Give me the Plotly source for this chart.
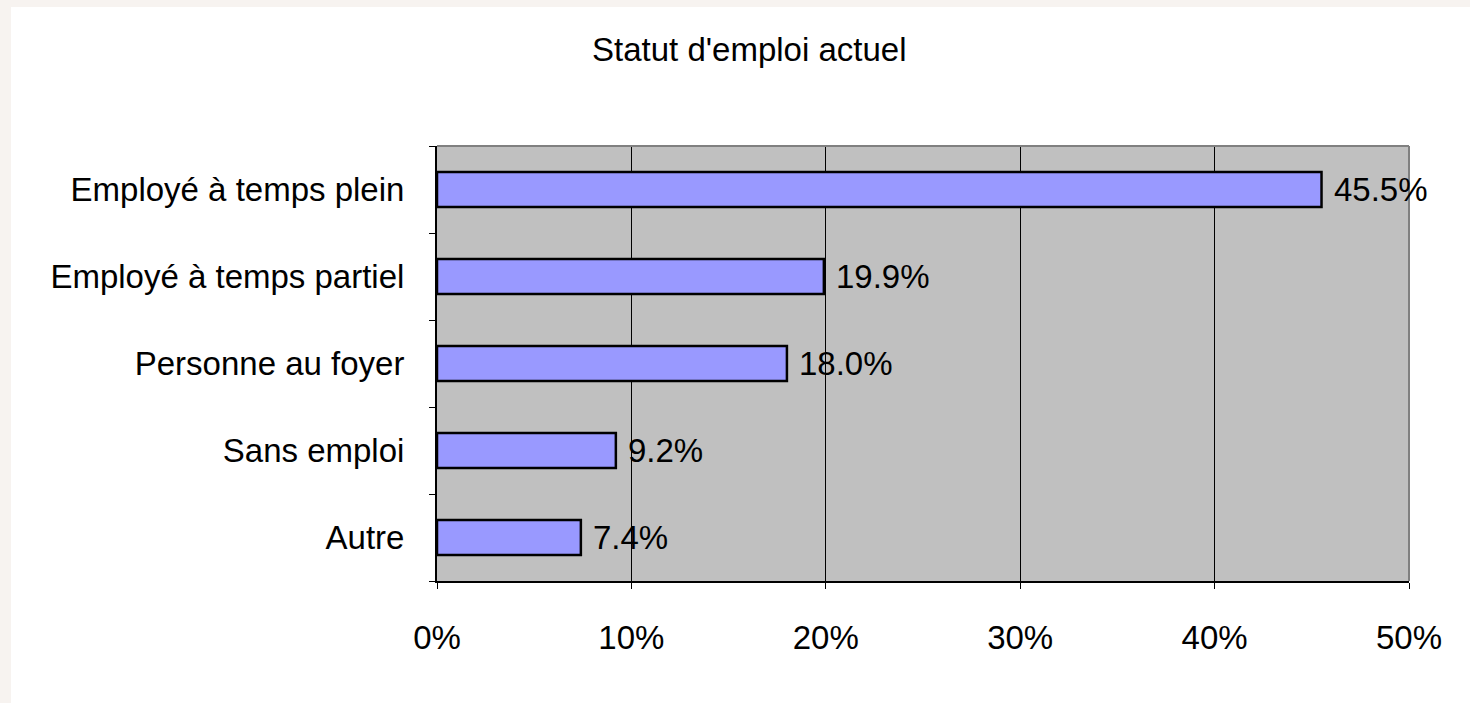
import plotly.graph_objects as go

categories = ["Employé à temps plein", "Employé à temps partiel", "Personne au foyer", "Sans emploi", "Autre"]
values = [45.5, 19.9, 18.0, 9.2, 7.4]
x_ticks = [0, 10, 20, 30, 40, 50]
x_tick_labels = ["0%", "10%", "20%", "30%", "40%", "50%"]
title_text = "Statut d'emploi actuel"

FONT = "Liberation Sans, Arial, sans-serif"
FS = 33

fig = go.Figure()
fig.add_trace(go.Bar(
    x=values, y=categories, orientation="h",
    width=0.4,
    marker=dict(color="#9999ff", line=dict(color="black", width=2.5)),
    hoverinfo="x+y",
))

for c, v in zip(categories, values):
    fig.add_annotation(x=v, y=c, xref="x", yref="y", text=f"{v:.1f}%",
                       showarrow=False, xanchor="left", yanchor="middle",
                       xshift=10, font=dict(family=FONT, size=FS, color="black"))

fig.add_annotation(x=0.3215, y=1.2207, xref="paper", yref="paper", text=title_text,
                   showarrow=False, xanchor="center", yanchor="middle",
                   font=dict(family=FONT, size=FS, color="black"))

# top/right gray border
fig.add_shape(type="line", xref="paper", yref="paper", x0=0, x1=1, y0=1, y1=1,
              line=dict(color="#808080", width=2))
fig.add_shape(type="line", xref="paper", yref="paper", x0=1, x1=1, y0=0, y1=1,
              line=dict(color="#808080", width=2))
# beige page border (left and top strips)
fig.add_shape(type="rect", xref="paper", yref="paper", x0=-0.46, x1=-0.4383, y0=-0.35, y1=1.4,
              line=dict(width=0), fillcolor="#f7f3f0", layer="below")
fig.add_shape(type="rect", xref="paper", yref="paper", x0=-0.46, x1=1.1, y0=1.3195, y1=1.4,
              line=dict(width=0), fillcolor="#f7f3f0", layer="below")

fig.update_layout(
    width=1470, height=703,
    margin=dict(l=437, r=61, t=146, b=122, pad=0),
    paper_bgcolor="white",
    plot_bgcolor="#c0c0c0",
    showlegend=False,
    font=dict(family=FONT, size=FS, color="black"),
    xaxis=dict(range=[0, 50], tickvals=x_ticks, ticktext=x_tick_labels,
               showgrid=True, gridcolor="black", gridwidth=1,
               showline=True, linecolor="black", linewidth=2,
               ticks="outside", ticklen=6, tickcolor="black", tickwidth=1,
               ticklabelstandoff=20, zeroline=False, fixedrange=True,
               tickfont=dict(family=FONT, size=FS)),
    yaxis=dict(categoryorder="array", categoryarray=categories[::-1],
               showgrid=False, showline=True, linecolor="black", linewidth=2,
               ticks="outside", ticklen=6, tickcolor="black", tickwidth=1,
               tickson="boundaries", ticklabelstandoff=24, fixedrange=True,
               tickfont=dict(family=FONT, size=FS)),
)

fig.write_html("out.html", config={"displayModeBar": False},
               post_script="document.body.style.margin='0';document.body.style.overflow='hidden';")
